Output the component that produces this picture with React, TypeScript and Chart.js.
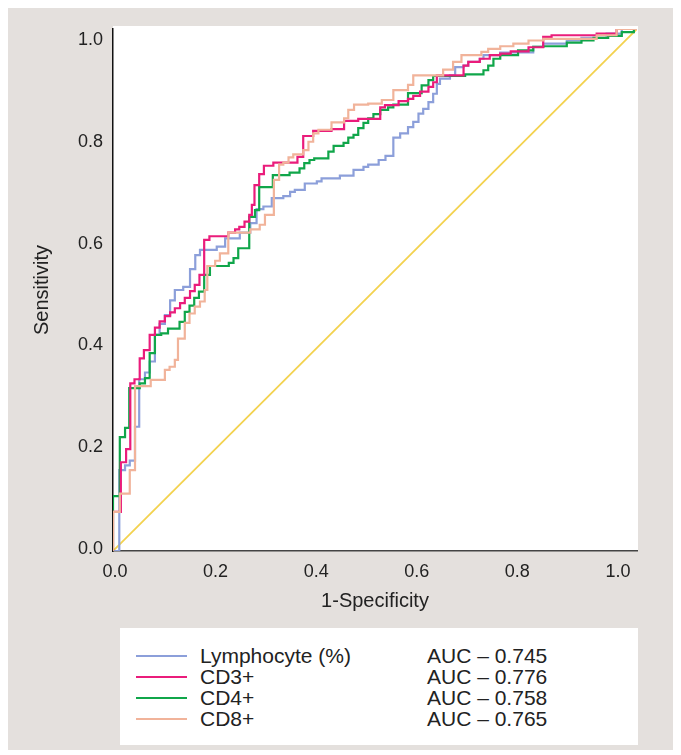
import React, { useEffect, useRef } from "react";
import { Chart, registerables } from "chart.js";

Chart.register(...registerables);

// ---- Data ----
// Each series: horizontal runs of the ROC staircase.
// fpr[i] = right end of the run, tpr[i] = level of the run (curve starts at 0,0).
const seriesNames = ["Lymphocyte (%)", "CD3+", "CD4+", "CD8+"];
const aucTexts = ["AUC – 0.745", "AUC – 0.776", "AUC – 0.758", "AUC – 0.765"];
const seriesColors = ["#8c9fda", "#ea1c7b", "#10a64a", "#f1b39a"];
const diagonalColor = "#f3d24f";

const lymphFpr = [0.012, 0.023, 0.032, 0.042, 0.050, 0.061, 0.070, 0.080, 0.089, 0.099, 0.109, 0.118, 0.134, 0.147, 0.157, 0.166, 0.198, 0.214, 0.242, 0.262, 0.274, 0.287, 0.303, 0.325, 0.338, 0.347, 0.366, 0.389, 0.398, 0.433, 0.459, 0.478, 0.487, 0.507, 0.520, 0.535, 0.548, 0.563, 0.573, 0.583, 0.592, 0.602, 0.611, 0.618, 0.624, 0.643, 0.653, 0.669, 0.678, 0.700, 0.707, 0.739, 0.802, 0.821, 0.866, 0.894, 0.942, 0.971, 1.0];
const lymphTpr = [0.0, 0.155, 0.164, 0.173, 0.238, 0.329, 0.342, 0.363, 0.414, 0.435, 0.452, 0.480, 0.500, 0.506, 0.540, 0.567, 0.577, 0.583, 0.599, 0.610, 0.628, 0.655, 0.660, 0.676, 0.680, 0.688, 0.692, 0.704, 0.708, 0.714, 0.719, 0.730, 0.736, 0.740, 0.749, 0.757, 0.792, 0.800, 0.812, 0.822, 0.838, 0.847, 0.860, 0.876, 0.895, 0.905, 0.911, 0.927, 0.930, 0.937, 0.943, 0.950, 0.955, 0.966, 0.972, 0.978, 0.983, 0.991, 1.0];

const cd3Fpr = [0.015, 0.025, 0.033, 0.041, 0.051, 0.059, 0.070, 0.080, 0.089, 0.099, 0.109, 0.118, 0.128, 0.137, 0.147, 0.156, 0.165, 0.174, 0.184, 0.220, 0.233, 0.241, 0.251, 0.260, 0.265, 0.270, 0.279, 0.288, 0.306, 0.352, 0.363, 0.382, 0.417, 0.441, 0.468, 0.510, 0.519, 0.545, 0.563, 0.573, 0.586, 0.602, 0.611, 0.618, 0.669, 0.678, 0.700, 0.719, 0.739, 0.759, 0.793, 0.821, 0.837, 0.923, 0.961, 1.0];
const cd3Tpr = [0.075, 0.170, 0.195, 0.321, 0.329, 0.369, 0.385, 0.414, 0.428, 0.440, 0.450, 0.457, 0.465, 0.475, 0.485, 0.498, 0.510, 0.529, 0.596, 0.603, 0.610, 0.616, 0.621, 0.631, 0.644, 0.663, 0.701, 0.722, 0.738, 0.744, 0.755, 0.795, 0.805, 0.808, 0.824, 0.828, 0.850, 0.854, 0.862, 0.866, 0.872, 0.880, 0.889, 0.898, 0.911, 0.930, 0.937, 0.943, 0.950, 0.953, 0.957, 0.965, 0.985, 0.988, 0.991, 1.0];

const cd4Fpr = [0.013, 0.023, 0.031, 0.051, 0.061, 0.070, 0.080, 0.092, 0.105, 0.127, 0.137, 0.146, 0.155, 0.164, 0.174, 0.185, 0.221, 0.230, 0.239, 0.260, 0.271, 0.279, 0.305, 0.337, 0.356, 0.365, 0.375, 0.384, 0.411, 0.421, 0.440, 0.449, 0.459, 0.468, 0.478, 0.487, 0.497, 0.510, 0.525, 0.535, 0.563, 0.589, 0.602, 0.611, 0.672, 0.707, 0.716, 0.726, 0.739, 0.773, 0.802, 0.821, 0.866, 0.894, 0.917, 0.945, 0.971, 0.994, 1.0];
const cd4Tpr = [0.105, 0.218, 0.236, 0.312, 0.321, 0.331, 0.379, 0.414, 0.417, 0.426, 0.439, 0.458, 0.470, 0.485, 0.497, 0.529, 0.546, 0.552, 0.561, 0.580, 0.640, 0.653, 0.697, 0.720, 0.725, 0.733, 0.743, 0.749, 0.752, 0.765, 0.776, 0.782, 0.792, 0.797, 0.810, 0.820, 0.829, 0.837, 0.845, 0.850, 0.855, 0.877, 0.892, 0.902, 0.910, 0.913, 0.921, 0.930, 0.943, 0.950, 0.959, 0.966, 0.967, 0.974, 0.978, 0.983, 0.987, 0.994, 1.0];

const cd8Fpr = [0.013, 0.032, 0.042, 0.072, 0.099, 0.108, 0.118, 0.124, 0.137, 0.146, 0.156, 0.166, 0.175, 0.180, 0.195, 0.204, 0.220, 0.262, 0.280, 0.290, 0.307, 0.317, 0.325, 0.335, 0.344, 0.363, 0.373, 0.382, 0.392, 0.417, 0.441, 0.449, 0.460, 0.487, 0.513, 0.535, 0.563, 0.573, 0.630, 0.649, 0.665, 0.703, 0.716, 0.739, 0.764, 0.793, 0.821, 0.923, 0.961, 1.0];
const cd8Tpr = [0.075, 0.110, 0.155, 0.316, 0.328, 0.347, 0.353, 0.366, 0.407, 0.437, 0.455, 0.468, 0.478, 0.500, 0.546, 0.556, 0.570, 0.610, 0.616, 0.625, 0.644, 0.711, 0.740, 0.744, 0.754, 0.760, 0.768, 0.784, 0.800, 0.807, 0.821, 0.829, 0.845, 0.855, 0.857, 0.864, 0.883, 0.893, 0.911, 0.922, 0.937, 0.950, 0.956, 0.962, 0.967, 0.972, 0.978, 0.981, 0.988, 1.0];

const diagonalX = [0, 1];
const diagonalY = [0, 1];

const xTickValues = [0, 0.2, 0.4, 0.6, 0.8, 1.0];
const yTickValues = [0, 0.2, 0.4, 0.6, 0.8, 1.0];
const xTitle = "1-Specificity";
const yTitle = "Sensitivity";

const seriesFpr = [lymphFpr, cd3Fpr, cd4Fpr, cd8Fpr];
const seriesTpr = [lymphTpr, cd3Tpr, cd4Tpr, cd8Tpr];

function stairPoints(fpr: number[], tpr: number[]) {
  const pts = [{ x: 0, y: 0 }];
  let prevX = 0;
  for (let i = 0; i < fpr.length; i++) {
    pts.push({ x: prevX, y: tpr[i] });
    pts.push({ x: fpr[i], y: tpr[i] });
    prevX = fpr[i];
  }
  return pts;
}

const FONT = "'Liberation Sans', Arial, Helvetica, sans-serif";
const BG = "#e4e0dd";
const TEXT = "#222";

// The printed tick labels sit on a slightly inset scale relative to the curves.
const xLabelRange = [-0.004, 1.038];
const yLabelRange = [-0.004, 1.022];

const plotBg = {
  id: "plotBg",
  beforeDraw(chart: any) {
    const { ctx, chartArea } = chart;
    ctx.save();
    ctx.fillStyle = "#ffffff";
    ctx.fillRect(chartArea.left, chartArea.top - 3, chartArea.right - chartArea.left + 1, chartArea.bottom - chartArea.top + 3);
    ctx.restore();
  },
};

export default function App() {
  const ref = useRef<HTMLCanvasElement | null>(null);

  useEffect(() => {
    if (!ref.current) return;
    const datasets: any[] = seriesNames.map((name, i) => ({
      label: name,
      data: stairPoints(seriesFpr[i], seriesTpr[i]),
      borderColor: seriesColors[i],
      backgroundColor: seriesColors[i],
      borderWidth: 2.2,
      pointRadius: 0,
      tension: 0,
      fill: false,
      xAxisID: "x",
      yAxisID: "y",
      order: [3, 1, 2, 0][i],
    }));
    datasets.push({
      label: "Reference",
      data: diagonalX.map((x, i) => ({ x, y: diagonalY[i] })),
      borderColor: diagonalColor,
      borderWidth: 1.8,
      pointRadius: 0,
      fill: false,
      xAxisID: "x",
      yAxisID: "y",
      order: 10,
    });

    const chart = new Chart(ref.current, {
      type: "line",
      data: { datasets },
      plugins: [plotBg],
      options: {
        animation: false,
        responsive: false,
        maintainAspectRatio: false,
        layout: { padding: { left: 0, right: 36, top: 24, bottom: 0 } },
        plugins: {
          legend: { display: false },
          tooltip: { enabled: false },
        },
        scales: {
          x: { type: "linear", min: 0, max: 1, display: false },
          y: { type: "linear", min: 0, max: 1, display: false },
          xl: {
            type: "linear",
            position: "bottom",
            min: xLabelRange[0],
            max: xLabelRange[1],
            afterBuildTicks: (axis: any) => {
              axis.ticks = xTickValues.map((v) => ({ value: v }));
            },
            afterFit: (axis: any) => {
              axis.height = 64;
            },
            grid: { display: false, drawTicks: false },
            border: { display: true, color: "#444", width: 1.5 },
            ticks: {
              padding: 10,
              color: TEXT,
              font: { family: FONT, size: 18 },
              callback: (v: any) => Number(v).toFixed(1),
            },
            title: {
              display: true,
              text: xTitle,
              color: TEXT,
              font: { family: FONT, size: 20 },
              padding: { top: 0, bottom: 2 },
            },
          },
          yl: {
            type: "linear",
            position: "left",
            min: yLabelRange[0],
            max: yLabelRange[1],
            afterBuildTicks: (axis: any) => {
              axis.ticks = yTickValues.map((v) => ({ value: v }));
            },
            afterFit: (axis: any) => {
              axis.width = 105;
            },
            grid: { display: false, drawTicks: false },
            border: { display: true, color: "#111", width: 1.5 },
            ticks: {
              padding: 10,
              color: TEXT,
              font: { family: FONT, size: 18 },
              callback: (v: any) => Number(v).toFixed(1),
            },
            title: {
              display: true,
              text: yTitle,
              color: TEXT,
              font: { family: FONT, size: 20 },
              padding: { top: 22, bottom: 0 },
            },
          },
        },
      } as any,
    });
    return () => chart.destroy();
  }, []);

  return (
    <div
      style={{
        position: "relative",
        width: 665,
        height: 745,
        marginTop: -3,
        background: BG,
        fontFamily: FONT,
      }}
    >
      <canvas
        ref={ref}
        width={665}
        height={610}
        style={{ position: "absolute", left: 0, top: 0, width: 665, height: 610 }}
      />
      <div
        style={{
          position: "absolute",
          left: 112,
          top: 623,
          width: 518,
          height: 117,
          background: "#ffffff",
        }}
      >
        {seriesNames.map((name, i) => (
          <div
            key={name}
            style={{
              position: "absolute",
              left: 0,
              top: 17 + i * 21,
              height: 21,
              width: 518,
              fontSize: 21,
              lineHeight: "21px",
              color: TEXT,
            }}
          >
            <div
              style={{
                position: "absolute",
                left: 16,
                top: 10,
                width: 51,
                height: 0,
                borderTop: `2px solid ${seriesColors[i]}`,
              }}
            />
            <span style={{ position: "absolute", left: 80, top: 0, whiteSpace: "nowrap" }}>{name}</span>
            <span style={{ position: "absolute", left: 307, top: 0, whiteSpace: "nowrap" }}>{aucTexts[i]}</span>
          </div>
        ))}
      </div>
    </div>
  );
}
